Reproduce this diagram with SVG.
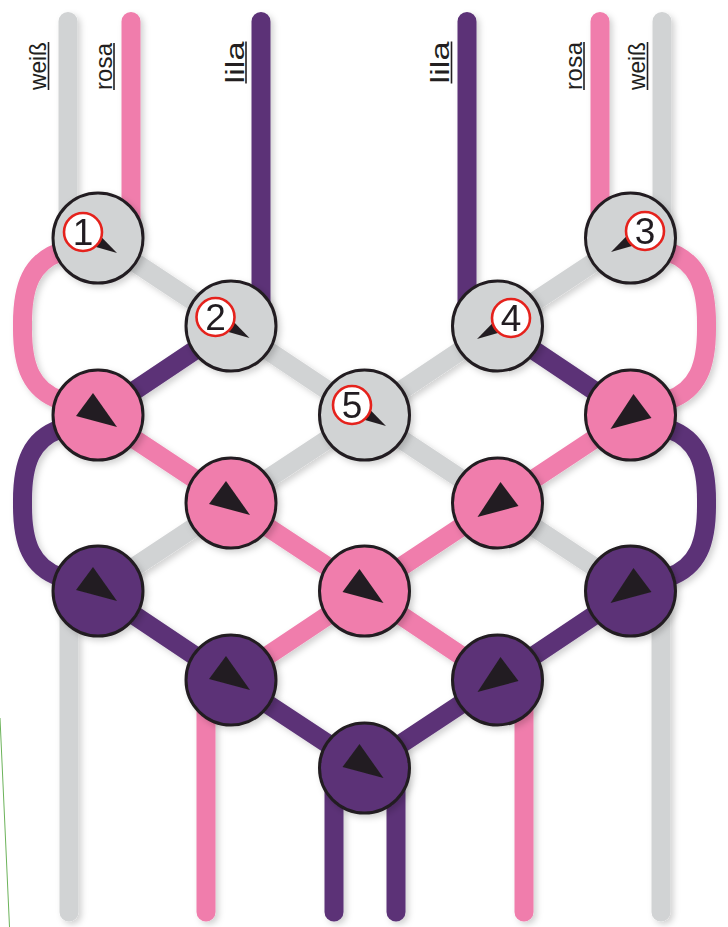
<svg xmlns="http://www.w3.org/2000/svg" xmlns:xlink="http://www.w3.org/1999/xlink" width="728" height="927" viewBox="0 0 728 927">
<defs>
<style>
.s{fill:none;stroke-width:19;stroke-linecap:round;stroke-linejoin:round}
.g{stroke:#d1d3d4}
.p{stroke:#f07dac}
.v{stroke:#5b3277}
.k{stroke:#231f20;stroke-width:3}
.kg{fill:#d1d3d4}
.kp{fill:#f07dac}
.kv{fill:#5b3277}
.tri{fill:#231f20}
.badge{fill:#ffffff;stroke:#e5231f;stroke-width:2.6}
.num{font-family:"Liberation Sans","DejaVu Sans",sans-serif;font-size:37px;fill:#231f20;text-anchor:middle}
.lab{font-family:"Liberation Sans","DejaVu Sans",sans-serif;font-size:24px;fill:#231f20}
.lab2{font-family:"Liberation Sans","DejaVu Sans",sans-serif;font-size:26px;fill:#231f20}
.ul{stroke:#231f20;stroke-width:1.6}
</style>
<filter id="sh" x="-20%" y="-20%" width="140%" height="140%">
<feDropShadow dx="3" dy="3" stdDeviation="3" flood-color="#000" flood-opacity="0.18"/>
</filter>
<path id="tL" d="M-5,-22 L-22,1 L19,12 Z"/>
<path id="tR" d="M3,-21 L-20,14 L21,3 Z"/>
<path id="pL" d="M2.7,-11 L34,21 L-6.3,9.5 Z"/>
<path id="pR" d="M-2.7,-11 L-34,21 L6.3,9.5 Z"/>
</defs>

<line x1="0" y1="718" x2="9.5" y2="927" stroke="#6cb35a" stroke-width="1"/>

<g id="labels">
<g transform="translate(46,90) rotate(-90)"><text class="lab" textLength="48" lengthAdjust="spacingAndGlyphs">weiß</text><line class="ul" x1="0" y1="2.5" x2="48" y2="2.5"/></g>
<g transform="translate(111.5,90) rotate(-90)"><text class="lab" textLength="47" lengthAdjust="spacing">rosa</text><line class="ul" x1="0" y1="2.5" x2="47" y2="2.5"/></g>
<g transform="translate(243.5,83.5) rotate(-90)"><text class="lab2" textLength="42" lengthAdjust="spacingAndGlyphs">lila</text><line class="ul" x1="0" y1="2.5" x2="42" y2="2.5"/></g>
<g transform="translate(449,83.5) rotate(-90)"><text class="lab2" textLength="42" lengthAdjust="spacingAndGlyphs">lila</text><line class="ul" x1="0" y1="2.5" x2="42" y2="2.5"/></g>
<g transform="translate(581.5,90) rotate(-90)"><text class="lab" textLength="48" lengthAdjust="spacing">rosa</text><line class="ul" x1="0" y1="2.5" x2="48" y2="2.5"/></g>
<g transform="translate(645,90) rotate(-90)"><text class="lab" textLength="48" lengthAdjust="spacingAndGlyphs">weiß</text><line class="ul" x1="0" y1="2.5" x2="48" y2="2.5"/></g>
</g>

<g id="connectors" filter="url(#sh)">
<!-- weiß -->
<line class="s g" x1="68" y1="21.5" x2="68" y2="230"/>
<line class="s g" x1="662" y1="21.5" x2="662" y2="230"/>
<polyline class="s g" points="98,238 231,326 364.5,415 231,503 98,591"/>
<polyline class="s g" points="630.5,238 497.5,326 364.5,415 497.5,503 630.5,591"/>
<line class="s g" x1="69" y1="600" x2="69" y2="912"/>
<line class="s g" x1="661" y1="600" x2="661" y2="912"/>
<!-- rosa -->
<line class="s p" x1="131" y1="21.5" x2="131" y2="230"/>
<line class="s p" x1="600" y1="21.5" x2="600" y2="230"/>
<path class="s p" d="M60,252 C32,262 22,285 22.5,326 C22,367 32,390 60,400"/>
<path class="s p" d="M669,252 C697,262 707,285 706.5,326 C707,367 697,390 669,400"/>
<polyline class="s p" points="98,415 231,503 364.5,591 231,680"/>
<polyline class="s p" points="630.5,415 497.5,503 364.5,591 497.5,680"/>
<line class="s p" x1="206" y1="690" x2="206" y2="912"/>
<line class="s p" x1="524" y1="690" x2="524" y2="912"/>
<!-- lila -->
<line class="s v" x1="261" y1="21.5" x2="261" y2="320"/>
<line class="s v" x1="467" y1="21.5" x2="467" y2="320"/>
<line class="s v" x1="231" y1="326" x2="98" y2="415"/>
<line class="s v" x1="497.5" y1="326" x2="630.5" y2="415"/>
<path class="s v" d="M60,429 C32,439 22,462 22.5,503 C22,544 32,567 60,577"/>
<path class="s v" d="M669,429 C697,439 707,462 706.5,503 C707,544 697,567 669,577"/>
<polyline class="s v" points="98,591 231,680 364.5,768"/>
<polyline class="s v" points="630.5,591 497.5,680 364.5,768"/>
<line class="s v" x1="334" y1="780" x2="334" y2="912"/>
<line class="s v" x1="396" y1="780" x2="396" y2="912"/>
</g>

<g id="knot1" filter="url(#sh)"><circle class="k kg" cx="98" cy="238" r="45"/><use href="#pL" class="tri" x="83" y="232"/><circle class="badge" cx="83" cy="232" r="19"/><text class="num" x="83" y="245">1</text></g>
<g id="knot2" filter="url(#sh)"><circle class="k kg" cx="231" cy="326" r="45"/><use href="#pL" class="tri" x="215.5" y="317"/><circle class="badge" cx="215.5" cy="317" r="19"/><text class="num" x="215.5" y="330">2</text></g>
<g id="knot3" filter="url(#sh)"><circle class="k kg" cx="630.5" cy="238" r="45"/><use href="#pR" class="tri" x="645" y="231"/><circle class="badge" cx="645" cy="231" r="19"/><text class="num" x="645" y="244">3</text></g>
<g id="knot4" filter="url(#sh)"><circle class="k kg" cx="497.5" cy="326" r="45"/><use href="#pR" class="tri" x="511" y="318"/><circle class="badge" cx="511" cy="318" r="19"/><text class="num" x="511" y="331">4</text></g>
<g id="knot5" filter="url(#sh)"><circle class="k kg" cx="364.5" cy="415" r="45"/><use href="#pL" class="tri" x="352" y="405"/><circle class="badge" cx="352" cy="405" r="19"/><text class="num" x="352" y="418">5</text></g>

<g id="knot-pink-l1" filter="url(#sh)"><circle class="k kp" cx="98" cy="415" r="45"/><use href="#tL" class="tri" x="98" y="415"/></g>
<g id="knot-pink-r1" filter="url(#sh)"><circle class="k kp" cx="630.5" cy="415" r="45"/><use href="#tR" class="tri" x="630.5" y="415"/></g>
<g id="knot-pink-l2" filter="url(#sh)"><circle class="k kp" cx="231" cy="503" r="45"/><use href="#tL" class="tri" x="231" y="503"/></g>
<g id="knot-pink-r2" filter="url(#sh)"><circle class="k kp" cx="497.5" cy="503" r="45"/><use href="#tR" class="tri" x="497.5" y="503"/></g>
<g id="knot-pink-c" filter="url(#sh)"><circle class="k kp" cx="364.5" cy="591" r="45"/><use href="#tL" class="tri" x="364.5" y="591"/></g>

<g id="knot-purple-l1" filter="url(#sh)"><circle class="k kv" cx="98" cy="591" r="45"/><use href="#tL" class="tri" x="98" y="589"/></g>
<g id="knot-purple-r1" filter="url(#sh)"><circle class="k kv" cx="630.5" cy="591" r="45"/><use href="#tR" class="tri" x="630.5" y="589"/></g>
<g id="knot-purple-l2" filter="url(#sh)"><circle class="k kv" cx="231" cy="680" r="45"/><use href="#tL" class="tri" x="231" y="678"/></g>
<g id="knot-purple-r2" filter="url(#sh)"><circle class="k kv" cx="497.5" cy="680" r="45"/><use href="#tR" class="tri" x="497.5" y="678"/></g>
<g id="knot-purple-c" filter="url(#sh)"><circle class="k kv" cx="364.5" cy="768" r="45"/><use href="#tL" class="tri" x="364.5" y="766"/></g>
</svg>
